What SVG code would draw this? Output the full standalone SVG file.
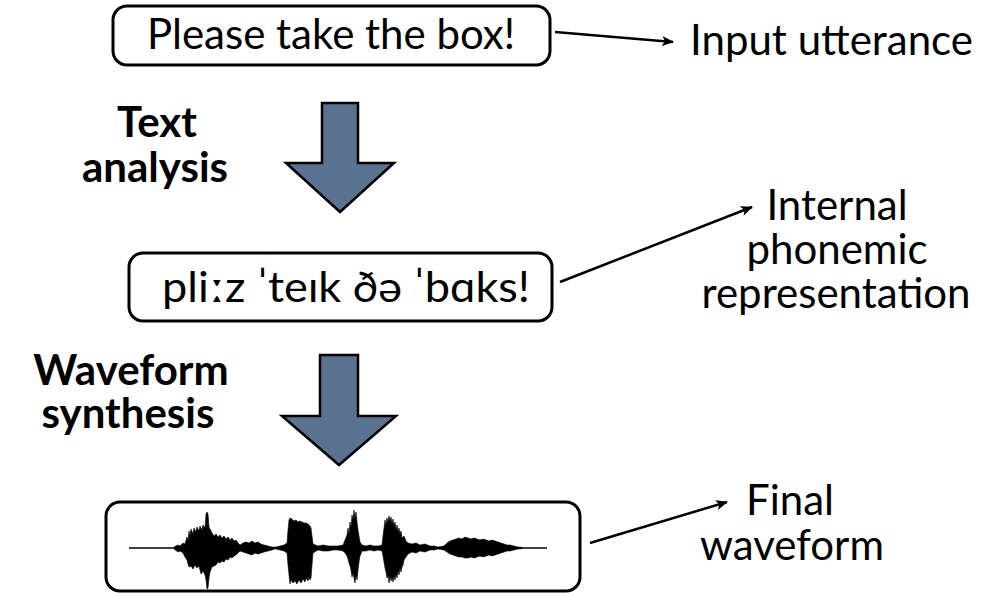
<svg xmlns="http://www.w3.org/2000/svg" width="994" height="593" viewBox="0 0 994 593">
<defs>
<style>
.box{fill:#fff;stroke:#000;stroke-width:3}
.blk{fill:#5b7190;stroke:#000;stroke-width:2.5;stroke-linejoin:miter}
.conn{stroke:#000;stroke-width:2.5;fill:none}
text{font-family:Lato,"Noto Sans","DejaVu Sans",sans-serif;fill:#000}
.lbl{font-size:42px}
.bold{font-size:42px;font-weight:bold;text-anchor:middle}
.mid{text-anchor:middle}
.wf{fill:#000;stroke:#000;stroke-width:0.6;stroke-linejoin:round}
</style>
<marker id="ah" viewBox="0 0 12 10" refX="11" refY="5" markerWidth="12" markerHeight="10" markerUnits="userSpaceOnUse" orient="auto">
<path d="M0,0 L12,5 L0,10 L3,5 Z" fill="#000"/>
</marker>
</defs>
<g id="connectors">
<line class="conn" x1="555" y1="32" x2="673" y2="42" marker-end="url(#ah)"/>
<line class="conn" x1="560" y1="282" x2="752" y2="207" marker-end="url(#ah)"/>
<line class="conn" x1="590" y1="543" x2="727" y2="502" marker-end="url(#ah)"/>
<path id="arrow-text-analysis" class="blk" d="M322,103 H358 V163 H394 L340,212 L286,163 H322 Z"/>
<path id="arrow-waveform-synthesis" class="blk" d="M320,355 H358 V416 H396 L339,465 L282,416 H320 Z"/>
</g>
<g id="node-input">
<rect class="box" x="113" y="6" width="437" height="59" rx="14"/>
<text class="lbl mid" x="331" y="49">Please take the box!</text>
</g>
<g id="label-input">
<text class="lbl" x="690" y="55">Input utterance</text>
</g>
<g id="label-text-analysis">
<text class="bold" x="157" y="137">Text</text>
<text class="bold" x="155" y="182">analysis</text>
</g>
<g id="node-phonemic">
<rect class="box" x="129" y="253" width="423" height="68" rx="14"/>
<text class="lbl" x="162" y="302" textLength="368" lengthAdjust="spacingAndGlyphs">pliːz ˈteɪk ðə ˈbɑks!</text>
</g>
<g id="label-phonemic">
<text class="lbl mid" x="837" y="220">Internal</text>
<text class="lbl mid" x="837" y="264">phonemic</text>
<text class="lbl mid" x="836" y="308">representation</text>
</g>
<g id="label-waveform-synthesis">
<text class="bold" x="131" y="385">Waveform</text>
<text class="bold" x="128" y="428">synthesis</text>
</g>
<g id="label-final">
<text class="lbl mid" x="790" y="515">Final</text>
<text class="lbl mid" x="792" y="560">waveform</text>
</g>
<g id="node-waveform">
<rect class="box" x="106" y="502" width="474" height="89" rx="14"/>
<line x1="129" y1="548" x2="547" y2="548" stroke="#000" stroke-width="1.5"/>
<path class="wf" d="M174,547 L178,545 L180,546 L183,543 L185,544 L187,537 L188,541 L189,531 L190,536 L191,529 L193,534 L194,528 L196,532 L197,527 L199,531 L200,526 L202,530 L203,525 L205,528 L206,514 L207,512 L208,514 L209,527 L211,531 L212,533 L214,536 L216,534 L218,537 L220,535 L222,538 L224,536 L226,539 L228,537 L230,540 L232,538 L234,541 L236,540 L238,543 L240,545 L243,543 L246,542 L249,543 L252,541 L255,543 L258,542 L261,544 L264,545 L268,546 L272,547 L275,547.2 L280,546 L284,545 L287,543 L288,530 L289,520 L290,518 L292,519 L294,521 L296,520 L298,522 L300,521 L302,522 L304,523 L306,523 L308,524 L310,526 L311,528 L312,536 L313,544 L318,546 L323,545 L328,546 L333,546 L338,546 L343,545 L345,540 L347,535 L348,528 L349,534 L350,522 L351,528 L352,515 L353,520 L354,510 L355,518 L356,512 L357,522 L358,530 L359,536 L360,542 L362,545 L366,546 L370,545 L374,546 L378,546 L382,545 L383,536 L384,528 L385,520 L386,525 L387,518 L388,522 L389,516 L390,521 L391,517 L392,524 L393,519 L394,526 L395,522 L396,530 L397,525 L398,532 L399,528 L400,534 L401,531 L402,538 L404,536 L406,541 L408,543 L412,544 L416,543 L420,545 L425,544 L430,546 L434,546 L438,547 L444,546 L447,543 L450,541 L453,540 L456,539 L459,538 L462,539 L465,537 L468,538 L471,539 L474,538 L477,539 L480,540 L483,539 L486,540 L489,541 L492,540 L495,541 L498,542 L501,543 L504,544 L507,545 L510,545 L514,546 L518,547 L522,547.4 L522,548.6 L518,549 L514,550 L510,551 L507,551 L504,552 L501,553 L498,554 L495,555 L492,556 L489,555 L486,556 L483,557 L480,556 L477,557 L474,558 L471,557 L468,558 L465,558 L462,557 L459,557 L456,556 L453,555 L450,554 L447,552 L444,550 L438,549 L434,550 L430,550 L425,552 L420,551 L416,553 L412,552 L408,554 L406,557 L404,560 L403,565 L402,567 L401,572 L400,568 L399,575 L398,571 L397,578 L396,574 L395,580 L394,576 L393,582 L392,577 L391,581 L390,576 L389,583 L388,575 L387,578 L386,572 L385,568 L384,562 L383,556 L382,551 L378,550 L374,551 L370,550 L366,551 L362,551 L360,556 L359,562 L358,570 L357,580 L356,575 L355,583 L354,578 L353,573 L352,577 L351,570 L350,566 L349,563 L348,559 L347,556 L345,553 L343,551 L338,550 L333,550 L328,551 L323,551 L318,550 L313,553 L312,565 L311,578 L310,580 L309,577 L308,581 L306,578 L305,582 L303,579 L301,583 L299,580 L297,584 L295,581 L293,583 L291,580 L290,584 L289,575 L288,565 L287,553 L284,551 L280,550 L275,548.8 L272,550 L268,551 L264,552 L261,553 L258,554 L255,553 L252,555 L249,554 L246,553 L243,552 L240,551 L238,553 L236,555 L234,556 L232,558 L230,557 L228,560 L226,559 L224,562 L222,561 L220,563 L218,562 L216,565 L214,566 L212,567 L210,572 L209,578 L208,588 L207,589 L206,580 L205,575 L203,571 L201,574 L199,566 L197,568 L195,565 L193,569 L191,566 L189,567 L188,564 L187,560 L185,557 L183,553 L180,551 L178,552 L174,549 Z"/>
</g>
</svg>
